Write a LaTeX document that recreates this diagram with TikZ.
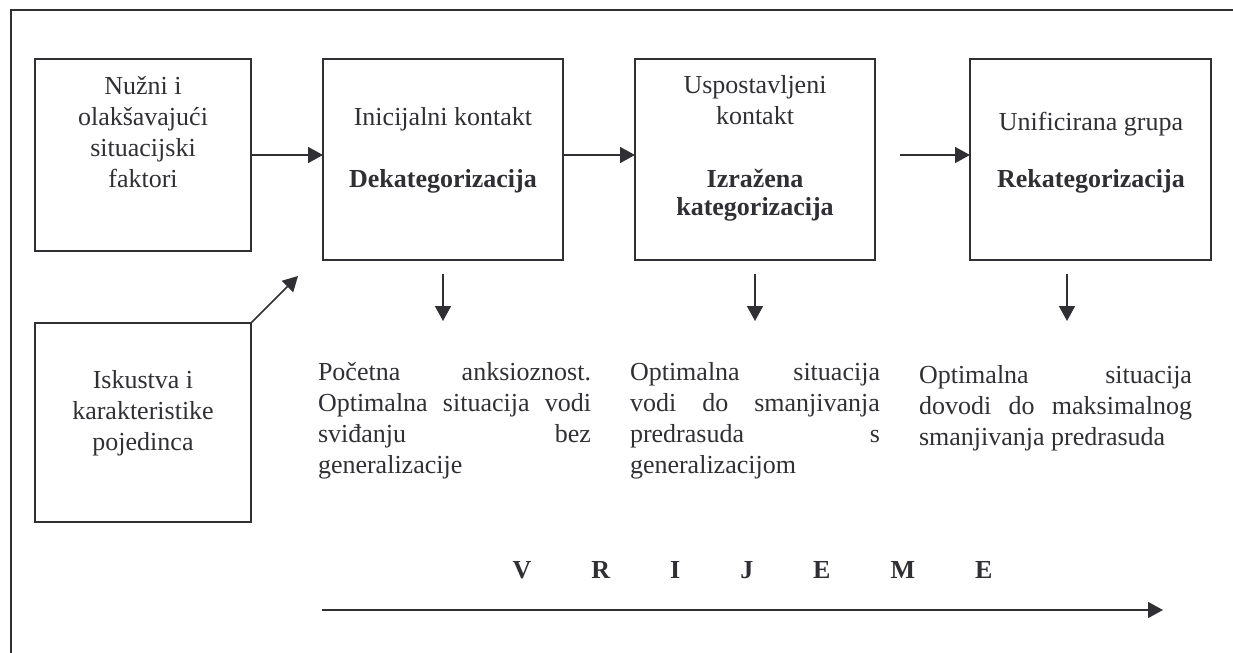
\documentclass[tikz,border=0pt]{standalone}
\usepackage{fontspec}
\setmainfont{Liberation Serif}
\usetikzlibrary{arrows.meta,calc}
\definecolor{ink}{RGB}{48,48,52}
\tolerance=10000 \hbadness=10000 \hyphenpenalty=10000 \exhyphenpenalty=10000
\begin{document}
\begin{tikzpicture}[x=0.5pt,y=-0.5pt,
  every node/.style={text=ink,inner sep=0pt,outer sep=0pt},
  txt/.style={font=\fontsize{13}{15.5}\selectfont},
  bld/.style={font=\fontsize{13}{15.5}\selectfont\bfseries},
  box/.style={draw=ink,line width=0.9pt,rectangle},
  arr/.style={draw=ink,line width=0.75pt,-{Triangle[length=7.5pt,width=8pt]}},
  para/.style={txt,align=justify,anchor=north west}]
\useasboundingbox (0,0) rectangle (1233,653);
% frame
\coordinate (fA) at (11,660);
\coordinate (fB) at (11,10);
\coordinate (fC) at (1240,10);
\draw[draw=ink,line width=1pt] (fA) -- (fB) -- (fC);
% boxes
\node[box,minimum width=108pt,minimum height=96pt] (b1) at (143,155) {};
\node[box,minimum width=120pt,minimum height=100.5pt] (b2) at (443,159.5) {};
\node[box,minimum width=120pt,minimum height=100.5pt] (b3) at (755,159.5) {};
\node[box,minimum width=120.5pt,minimum height=100.5pt] (b4) at (1090.5,159.5) {};
\node[box,minimum width=108pt,minimum height=99.5pt] (b5) at (143,422.5) {};
% box texts
\node[txt,align=center,anchor=north] (t1) at (143,70) {\rule{0pt}{12pt}Nužni i\\olakšavajući\\situacijski\\faktori};
\node[txt,anchor=base] (t2a) at (443,125) {Inicijalni kontakt};
\node[bld,anchor=base] (t2b) at (443,187) {Dekategorizacija};
\node[txt,align=center,anchor=north] (t3a) at (755,69) {\rule{0pt}{12pt}Uspostavljeni\\kontakt};
\node[bld,align=center,anchor=north] (t3b) at (755,163) {\rule{0pt}{12pt}Izražena\\[-1.5pt]kategorizacija};
\node[txt,anchor=base] (t4a) at (1091,130) {Unificirana grupa};
\node[bld,anchor=base] (t4b) at (1091,187) {Rekategorizacija};
\node[txt,align=center,anchor=north] (t5) at (143,364) {\rule{0pt}{12pt}Iskustva i\\karakteristike\\pojedinca};
% lower paragraphs
\node[para,text width=136.5pt] (p1) at (318,356) {\noindent\rule{0pt}{12pt}Početna anksioznost.\linebreak Optimalna situacija vodi\linebreak sviđanju bez\linebreak generalizacije};
\node[para,text width=125pt] (p2) at (630,356) {\noindent\rule{0pt}{12pt}Optimalna situacija\linebreak vodi do smanjivanja\linebreak predrasuda s\linebreak generalizacijom};
\node[para,text width=136.5pt] (p3) at (919,359) {\noindent\rule{0pt}{12pt}Optimalna situacija\linebreak dovodi do maksimalnog\linebreak smanjivanja predrasuda};
% horizontal arrows
\coordinate (c34) at (900,155);
\draw[arr] (b1.east) -- (b1.east -| b2.west);
\draw[arr] (b2.east |- b1.east) -- (b3.west |- b1.east);
\draw[arr] (c34) -- (c34 -| b4.west);
% diagonal arrow
\coordinate (d5) at (298,276);
\draw[arr] (b5.north east) -- (d5);
% down arrows
\coordinate (d2a) at (443,274); \coordinate (d2b) at (443,321);
\coordinate (d3a) at (755,274); \coordinate (d3b) at (755,321);
\coordinate (d4a) at (1067,274); \coordinate (d4b) at (1067,321);
\draw[arr] (d2a) -- (d2b);
\draw[arr] (d3a) -- (d3b);
\draw[arr] (d4a) -- (d4b);
% time
\node[bld,anchor=base west] (vr) at (512.6,578) {V\hspace{30pt}R\hspace{30pt}I\hspace{30pt}J\hspace{30pt}E\hspace{30pt}M\hspace{30pt}E};
\coordinate (ta) at (322,610);
\coordinate (tb) at (1163,610);
\draw[arr] (ta) -- (tb);
\end{tikzpicture}
\end{document}
